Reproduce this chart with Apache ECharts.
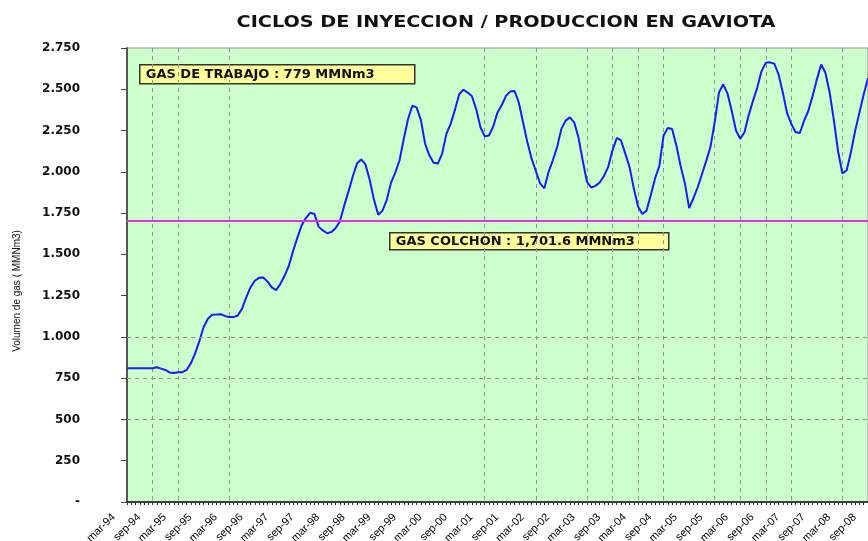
<!DOCTYPE html>
<html>
<head>
<meta charset="utf-8">
<script src="https://cdn.jsdelivr.net/npm/echarts@6/dist/echarts.min.js"></script>
<style>
  html, body { margin: 0; padding: 0; background: #fff; }
  #chart { width: 868px; height: 541px; }
</style>
</head>
<body>
<div id="chart"></div>
<script>
// ── Data ──────────────────────────────────────────────────────────────────────
const monthNames = ['ene', 'feb', 'mar', 'abr', 'may', 'jun', 'jul', 'ago', 'sep', 'oct', 'nov', 'dic'];
const startYear  = 1994;
const startMonth = 2;   // mar

// monthly stored volume (MMNm3), mar-94 .. sep-08
const volume = [
   810,  810,  810,  810,  810,  810,  810,  816,  808,  800,  785,  782,
   786,  786,  800,  840,  900,  975, 1060, 1110, 1134, 1135, 1137, 1127,
  1120, 1120, 1130, 1170, 1240, 1300, 1340, 1358, 1360, 1335, 1300, 1283,
  1320, 1370, 1430, 1520, 1600, 1675, 1720, 1752, 1745, 1668, 1645, 1628,
  1635, 1660, 1700, 1795, 1880, 1970, 2050, 2075, 2045, 1950, 1830, 1740,
  1765, 1830, 1935, 1995, 2070, 2200, 2320, 2400, 2390, 2315, 2170, 2100,
  2055, 2050, 2110, 2230, 2290, 2375, 2470, 2497, 2480, 2458, 2380, 2270,
  2215, 2220, 2275, 2360, 2405, 2460, 2487, 2490, 2420, 2300, 2180, 2080,
  2005, 1930, 1900, 2000, 2070, 2150, 2260, 2310, 2330, 2300, 2210, 2070,
  1940, 1905, 1915, 1935, 1975, 2030, 2130, 2205, 2190, 2110, 2030, 1900,
  1790, 1745, 1765, 1860, 1960, 2035, 2220, 2265, 2260, 2160, 2035, 1930,
  1780, 1840, 1905, 1985, 2065, 2150, 2300, 2480, 2530, 2475, 2370, 2250,
  2200, 2240, 2345, 2430, 2510, 2610, 2660, 2663, 2655, 2590, 2480, 2355,
  2290, 2240, 2235, 2310, 2370, 2460, 2560, 2650, 2600, 2480, 2310, 2120,
  1990, 2010, 2120, 2250, 2360, 2470, 2568
];

const cushionGas  = 1701.6;
const workingGas  = 779;
const gridMonths  = [6, 12, 24, 84, 96, 108, 114, 120, 126, 138, 144, 150, 156, 168];
const gridLevels  = [500, 750, 1000];

const categories = volume.map((_, i) => {
  const m = startMonth + i;
  const yy = (startYear + Math.floor(m / 12)) % 100;
  return monthNames[m % 12] + '-' + String(yy).padStart(2, '0');
});

// ── Chart ─────────────────────────────────────────────────────────────────────
const chart = echarts.init(document.getElementById('chart'), null, { renderer: 'canvas' });

const dashed = { color: '#8a9a8a', type: [4, 4], width: 1 };

chart.setOption({
  backgroundColor: '#ffffff',
  animation: false,
  grid: {
    left: 127, right: 0, top: 48, bottom: 39,
    outerBoundsMode: 'none',
    containLabel: false,
    show: true,
    backgroundColor: '#ccffcc',
    borderColor: '#9a9a9a',
    borderWidth: 1,
  },
  xAxis: {
    type: 'category',
    data: categories,
    boundaryGap: false,
    axisLine: { lineStyle: { color: '#111', width: 1.5 } },
    axisTick: { show: true, interval: 0, length: 3, lineStyle: { color: '#333' } },
    axisLabel: {
      interval: 5,
      rotate: 45,
      margin: 0,
      padding: [0, 19, 55, 0],
      color: '#000',
      fontSize: 11,
      fontFamily: 'Liberation Sans',
    },
    splitLine: {
      show: true,
      interval: idx => gridMonths.includes(idx),
      lineStyle: dashed,
    },
  },
  yAxis: {
    type: 'value',
    min: 0,
    max: 2750,
    interval: 250,
    axisLine: { show: true, lineStyle: { color: '#555', width: 2 } },
    axisTick: { show: true, length: 6, lineStyle: { color: '#444' } },
    axisLabel: {
      margin: 47,
      color: '#111',
      fontSize: 12,
      fontWeight: 'bold',
      fontFamily: 'DejaVu Sans',
      formatter: v => v === 0 ? '-' : String(v).replace(/\B(?=(\d{3})+(?!\d))/g, '.'),
    },
    splitLine: { show: false },
  },
  series: [{
    type: 'line',
    data: volume,
    symbol: 'none',
    lineStyle: { color: '#1a1aff', width: 2 },
    markLine: {
      silent: true,
      symbol: 'none',
      label: { show: false },
      data: [
        ...gridLevels.map(v => ({ yAxis: v, lineStyle: dashed })),
        { yAxis: cushionGas, lineStyle: { color: '#e030e0', width: 2, type: 'solid' } },
      ],
    },
  }],
  graphic: [
    {
      type: 'text',
      x: 506, y: 23,
      scaleX: 1.2,
      style: {
        text: 'CICLOS DE INYECCION / PRODUCCION EN GAVIOTA',
        fontSize: 16, fontWeight: 'bold', fontFamily: 'DejaVu Sans',
        fill: '#111', textAlign: 'center', textVerticalAlign: 'middle',
      },
    },
    {
      type: 'text',
      x: 17, y: 291,
      rotation: Math.PI / 2,
      style: {
        text: 'Volumen de gas ( MMNm3)',
        fontSize: 10, fontFamily: 'Liberation Sans',
        fill: '#111', textAlign: 'center', textVerticalAlign: 'middle',
      },
    },
    {
      type: 'group',
      left: 139, top: 64,
      children: [
        { type: 'rect', shape: { x: 0, y: 0, width: 275, height: 19 },
          style: { fill: '#ffff99', stroke: '#333', lineWidth: 1.5 } },
        { type: 'text', x: 6, y: 10,
          style: { text: 'GAS DE TRABAJO : ' + workingGas + ' MMNm3', fontSize: 13, fontWeight: 'bold',
                   fontFamily: 'DejaVu Sans', fill: '#111', textVerticalAlign: 'middle' } },
      ],
    },
    {
      type: 'group',
      left: 389, top: 232,
      children: [
        { type: 'rect', shape: { x: 0, y: 0, width: 279, height: 17 },
          style: { fill: '#ffff99', stroke: '#333', lineWidth: 1.5 } },
        { type: 'text', x: 6, y: 9,
          style: { text: 'GAS COLCHON : 1,701.6 MMNm3', fontSize: 13, fontWeight: 'bold',
                   fontFamily: 'DejaVu Sans', fill: '#111', textVerticalAlign: 'middle' } },
      ],
    },
  ],
});
</script>
</body>
</html>
